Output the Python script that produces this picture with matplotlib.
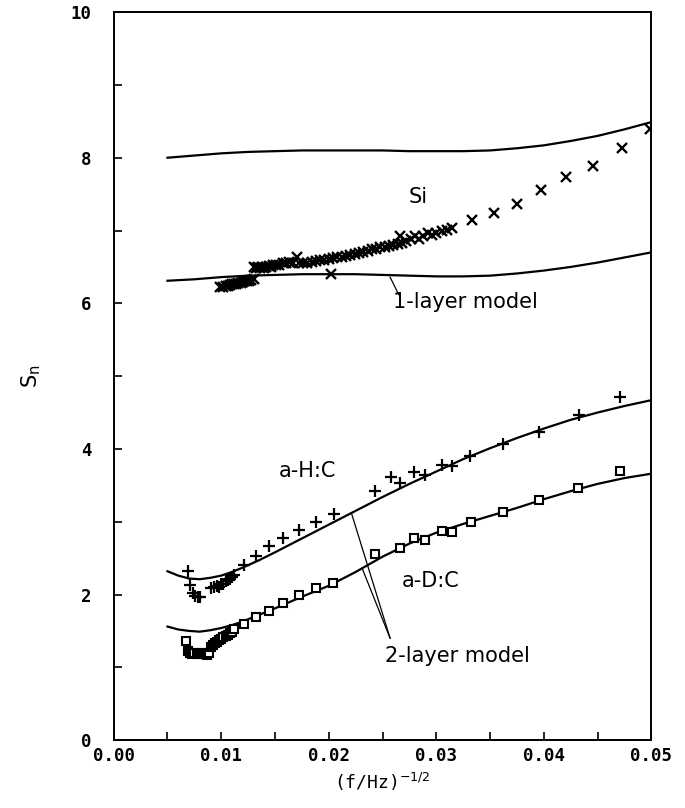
import matplotlib
matplotlib.use("Agg")
import matplotlib.pyplot as plt
from matplotlib.ticker import MultipleLocator

# model curves (2-layer / 1-layer)
model_x = [0.005, 0.0075, 0.010, 0.0125, 0.015, 0.0175, 0.020, 0.0225, 0.025,
           0.0275, 0.030, 0.0325, 0.035, 0.0375, 0.040, 0.0425, 0.045, 0.0475, 0.050]
si_upper = [8.00, 8.03, 8.06, 8.08, 8.09, 8.10, 8.10, 8.10, 8.10,
            8.09, 8.09, 8.09, 8.10, 8.13, 8.17, 8.23, 8.30, 8.39, 8.49]
si_lower = [6.31, 6.33, 6.36, 6.38, 6.39, 6.40, 6.40, 6.40, 6.39,
            6.38, 6.37, 6.37, 6.38, 6.41, 6.45, 6.50, 6.56, 6.63, 6.70]

carbon_x = [0.005, 0.006, 0.007, 0.008, 0.009, 0.010, 0.011, 0.012, 0.0135, 0.015,
            0.0175, 0.020, 0.0225, 0.025, 0.0275, 0.030, 0.0325, 0.035, 0.0375,
            0.040, 0.0425, 0.045, 0.0475, 0.050]
ahc_model = [2.32, 2.26, 2.22, 2.21, 2.23, 2.26, 2.31, 2.37, 2.47, 2.58,
             2.77, 2.96, 3.15, 3.34, 3.52, 3.69, 3.86, 4.01, 4.15,
             4.28, 4.40, 4.50, 4.59, 4.67]
adc_model = [1.56, 1.52, 1.50, 1.49, 1.51, 1.54, 1.58, 1.63, 1.72, 1.81,
             1.97, 2.12, 2.31, 2.52, 2.70, 2.85, 2.97, 3.08, 3.19,
             3.31, 3.42, 3.52, 3.60, 3.66]

# measured Si (x markers)
si_x = [0.0099, 0.0102, 0.0104, 0.0106, 0.0108, 0.0110, 0.0112, 0.0114, 0.0116,
        0.0118, 0.0120, 0.0122, 0.0124, 0.0126, 0.0128, 0.0130,
        0.0202,
        0.0130, 0.0132, 0.0134, 0.0136, 0.0138, 0.0140, 0.0142, 0.0144, 0.0146,
        0.0148, 0.0151, 0.0154, 0.0157, 0.0160, 0.0163, 0.0170,
        0.0167, 0.0172, 0.0176, 0.0180, 0.0184, 0.0188, 0.0192, 0.0196, 0.0200,
        0.0204, 0.0208, 0.0212, 0.0216, 0.0220, 0.0224, 0.0228, 0.0232, 0.0236,
        0.0240, 0.0244, 0.0248, 0.0252, 0.0256, 0.0260, 0.0264, 0.0266, 0.0268,
        0.0272, 0.0276, 0.0280, 0.0284, 0.0288, 0.0292, 0.0296, 0.0300, 0.0305,
        0.0310, 0.0315,
        0.0333, 0.0354, 0.0375, 0.0397, 0.0421, 0.0446, 0.0473, 0.0499]
si_y = [6.22, 6.23, 6.24, 6.24, 6.25, 6.26, 6.26, 6.27, 6.28,
        6.28, 6.29, 6.30, 6.30, 6.31, 6.32, 6.33,
        6.40,
        6.50, 6.48, 6.50, 6.49, 6.50, 6.49, 6.50, 6.51, 6.50,
        6.52, 6.52, 6.53, 6.55, 6.56, 6.57, 6.63,
        6.56, 6.55, 6.55, 6.56, 6.57, 6.58, 6.59, 6.60, 6.61,
        6.62, 6.63, 6.64, 6.65, 6.67, 6.68, 6.69, 6.71, 6.72,
        6.74, 6.75, 6.77, 6.78, 6.79, 6.80, 6.82, 6.92, 6.83,
        6.86, 6.88, 6.92, 6.89, 6.93, 6.96, 6.94, 6.97, 6.99,
        7.01, 7.03,
        7.14, 7.24, 7.37, 7.55, 7.74, 7.89, 8.13, 8.40]

# measured a-H:C (+ markers)
ahc_x = [0.0069, 0.0071, 0.0074, 0.0076, 0.0078, 0.0080,
         0.0090, 0.0093, 0.0096, 0.0098, 0.0100, 0.0102, 0.0104, 0.0106, 0.0108,
         0.0110, 0.0112,
         0.0121, 0.0132, 0.0144, 0.0157, 0.0172, 0.0188, 0.0205, 0.0243, 0.0258,
         0.0266, 0.0279, 0.0289, 0.0305, 0.0315, 0.0331, 0.0362, 0.0395, 0.0433, 0.0471]
ahc_y = [2.33, 2.13, 2.02, 1.98, 1.96, 1.97,
         2.09, 2.10, 2.12, 2.11, 2.15, 2.14, 2.18, 2.20, 2.22,
         2.24, 2.27,
         2.40, 2.53, 2.66, 2.78, 2.89, 3.00, 3.10, 3.42, 3.61,
         3.53, 3.68, 3.64, 3.78, 3.77, 3.90, 4.07, 4.23, 4.46, 4.71]

# measured a-D:C (open squares)
adc_x = [0.0067, 0.0069, 0.0071, 0.0073, 0.0075, 0.0077, 0.0079, 0.0081, 0.0083,
         0.0085, 0.0087, 0.0089,
         0.0090, 0.0092, 0.0094, 0.0096, 0.0098, 0.0100, 0.0102, 0.0104, 0.0106,
         0.0108, 0.0110, 0.0112,
         0.0121, 0.0132, 0.0144, 0.0157, 0.0172, 0.0188, 0.0204, 0.0243, 0.0266,
         0.0279, 0.0289, 0.0305, 0.0315, 0.0332, 0.0362, 0.0395, 0.0432, 0.0471]
adc_y = [1.36, 1.22, 1.19, 1.18, 1.19, 1.18, 1.19, 1.18, 1.19,
         1.18, 1.17, 1.20,
         1.28, 1.31, 1.33, 1.35, 1.37, 1.39, 1.41, 1.43, 1.45,
         1.47, 1.49, 1.52,
         1.60, 1.69, 1.78, 1.88, 1.99, 2.09, 2.16, 2.56, 2.64,
         2.77, 2.75, 2.87, 2.86, 3.00, 3.14, 3.30, 3.47, 3.69]

fig = plt.figure(figsize=(6.85, 8.08), dpi=100)
ax = fig.add_axes([0.166, 0.084, 0.785, 0.901])

lw = 1.6
ax.plot(model_x, si_upper, color='black', lw=lw)
ax.plot(model_x, si_lower, color='black', lw=lw)
ax.plot(carbon_x, ahc_model, color='black', lw=lw)
ax.plot(carbon_x, adc_model, color='black', lw=lw)

ax.plot(si_x, si_y, ls='none', marker='x', ms=6.5, mew=1.7, color='black')
ax.plot(ahc_x, ahc_y, ls='none', marker='+', ms=8, mew=1.6, color='black')
ax.plot(adc_x, adc_y, ls='none', marker='s', ms=6, mew=1.5,
        mfc='white', mec='black')

# labels and leader lines
tfont = dict(family='DejaVu Sans', fontsize=15, color='black')
ax.text(0.0283, 7.46, 'Si', ha='center', va='center', **tfont)
ax.text(0.0260, 6.02, '1-layer model', ha='left', va='center', **tfont)
ax.plot([0.0257, 0.0265], [6.36, 6.12], color='black', lw=0.9)
ax.text(0.0153, 3.70, 'a-H:C', ha='left', va='center', **tfont)
ax.text(0.0268, 2.18, 'a-D:C', ha='left', va='center', **tfont)
ax.text(0.0252, 1.15, '2-layer model', ha='left', va='center', **tfont)
ax.plot([0.0221, 0.0257], [3.12, 1.40], color='black', lw=0.9)
ax.plot([0.0231, 0.0257], [2.36, 1.40], color='black', lw=0.9)

ax.set_xlim(0.0, 0.05)
ax.set_ylim(0, 10)
ax.xaxis.set_major_locator(MultipleLocator(0.01))
ax.xaxis.set_minor_locator(MultipleLocator(0.005))
ax.yaxis.set_major_locator(MultipleLocator(2))
ax.yaxis.set_minor_locator(MultipleLocator(1))
ax.tick_params(which='both', direction='in', length=6, width=1.2,
               top=False, right=False)
ax.set_xticks([0, 0.01, 0.02, 0.03, 0.04, 0.05])
ax.set_xticklabels(['0.00', '0.01', '0.02', '0.03', '0.04', '0.05'])
for lab in ax.get_xticklabels() + ax.get_yticklabels():
    lab.set_family('DejaVu Sans Mono')
    lab.set_fontweight('bold')
    lab.set_fontsize(12.5)
ax.tick_params(axis='x', pad=5)
ax.tick_params(axis='y', pad=16)
for sp in ax.spines.values():
    sp.set_linewidth(1.4)

ax.set_xlabel(r'(f/Hz)$^{-1/2}$', family='DejaVu Sans Mono', fontsize=13,
              labelpad=4)
ax.set_ylabel(r'S$_\mathrm{n}$', fontsize=15, labelpad=20)

fig.savefig('out.png', dpi=100)
